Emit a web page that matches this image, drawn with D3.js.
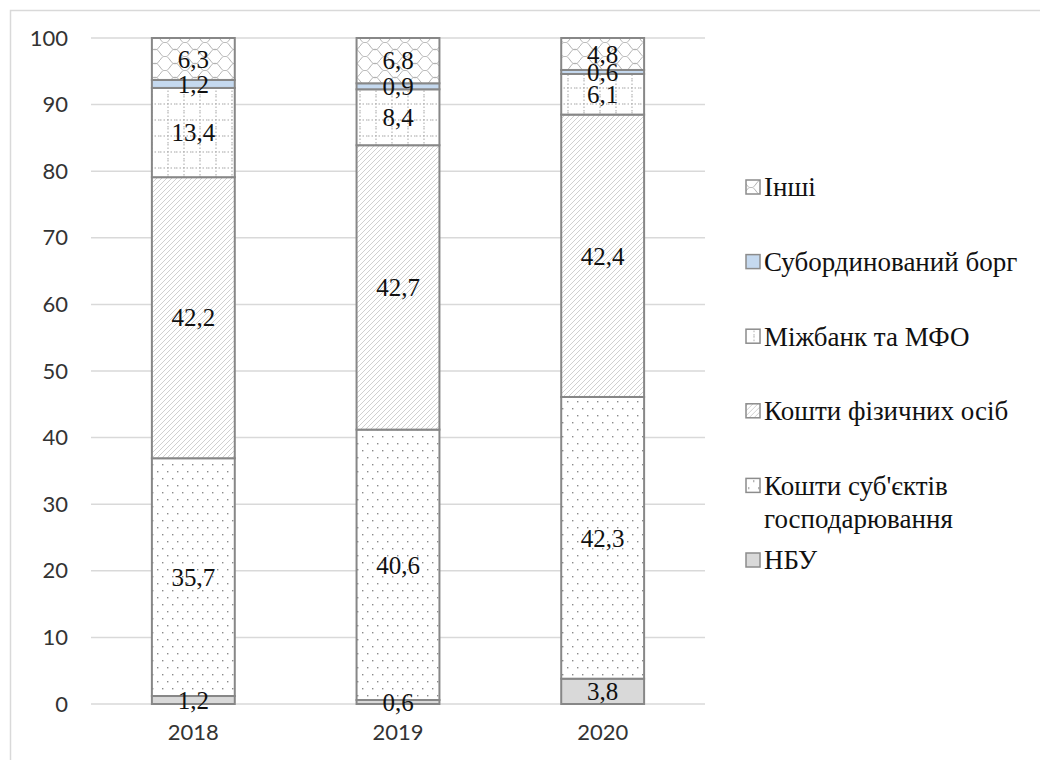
<!DOCTYPE html>
<html>
<head>
<meta charset="utf-8">
<script src="https://cdn.jsdelivr.net/npm/d3@7"></script>
<style>
  html, body { margin: 0; padding: 0; background: #fff; }
  svg { display: block; }
</style>
</head>
<body>
<svg id="chart" width="1040" height="760"></svg>
<script>
// Structure of bank liabilities, % (bottom-to-top stacking order)
const years = ["2018", "2019", "2020"];
const seriesNames = [
  "НБУ",
  "Кошти суб'єктів господарювання",
  "Кошти фізичних осіб",
  "Міжбанк та МФО",
  "Субординований борг",
  "Інші"
];
const nbu           = [1.2, 0.6, 3.8];
const businessFunds = [35.7, 40.6, 42.3];
const personalFunds = [42.2, 42.7, 42.4];
const interbank     = [13.4, 8.4, 6.1];
const subordinated  = [1.2, 0.9, 0.6];
const other         = [6.3, 6.8, 4.8];
const yTicks = [0, 10, 20, 30, 40, 50, 60, 70, 80, 90, 100];

const seriesValues = [nbu, businessFunds, personalFunds, interbank, subordinated, other];
const keys = ["nbu", "business", "personal", "interbank", "subordinated", "other"];

const rows = years.map((y, i) => {
  const r = { year: y };
  keys.forEach((k, j) => { r[k] = seriesValues[j][i]; });
  return r;
});

const svg = d3.select("#chart");
const defs = svg.append("defs");

// --- fill patterns ---
const gray = "#a6a6a6";

// dotted fill
const pDots = defs.append("pattern").attr("id", "p-dots")
  .attr("patternUnits", "userSpaceOnUse").attr("width", 10).attr("height", 14);
pDots.append("rect").attr("width", 10).attr("height", 14).attr("fill", "#fff");
pDots.append("rect").attr("x", 2).attr("y", 2).attr("width", 1.4).attr("height", 1.4).attr("fill", "#8a8a8a");
pDots.append("rect").attr("x", 7).attr("y", 9).attr("width", 1.4).attr("height", 1.4).attr("fill", "#8a8a8a");

// diagonal hatch
const pDiag = defs.append("pattern").attr("id", "p-diag")
  .attr("patternUnits", "userSpaceOnUse").attr("width", 5).attr("height", 5);
pDiag.append("rect").attr("width", 5).attr("height", 5).attr("fill", "#fff");
pDiag.append("path").attr("d", "M-1,1 L1,-1 M0,5 L5,0 M4,6 L6,4")
  .attr("stroke", "#d0d0d0").attr("stroke-width", 1);

// dotted grid
const pGrid = defs.append("pattern").attr("id", "p-grid")
  .attr("patternUnits", "userSpaceOnUse").attr("width", 16).attr("height", 16);
pGrid.append("rect").attr("width", 16).attr("height", 16).attr("fill", "#fff");
pGrid.append("line").attr("x1", 0).attr("x2", 16).attr("y1", 8).attr("y2", 8)
  .attr("stroke", gray).attr("stroke-width", 1).attr("stroke-dasharray", "1.5,2");
pGrid.append("line").attr("x1", 8).attr("x2", 8).attr("y1", 0).attr("y2", 16)
  .attr("stroke", gray).attr("stroke-width", 1).attr("stroke-dasharray", "1.5,2");

// scalloped fill
const pWave = defs.append("pattern").attr("id", "p-wave")
  .attr("patternUnits", "userSpaceOnUse").attr("width", 20).attr("height", 14);
pWave.append("rect").attr("width", 20).attr("height", 14).attr("fill", "#fff");
pWave.append("path")
  .attr("d", "M0,4 C3,-1 7,-1 10,4 C13,9 17,9 20,4 M-10,11 C-7,6 -3,6 0,11 C3,16 7,16 10,11 C13,6 17,6 20,11 C23,16 27,16 30,11")
  .attr("fill", "none").attr("stroke", "#b0b0b0").attr("stroke-width", 1);

const fills = {
  nbu: "#d9d9d9",
  business: "url(#p-dots)",
  personal: "url(#p-diag)",
  interbank: "url(#p-grid)",
  subordinated: "#c5d9ef",
  other: "url(#p-wave)"
};

// --- frame ---
svg.append("rect").attr("x", 10.5).attr("y", 10.5).attr("width", 1040).attr("height", 760)
  .attr("fill", "none").attr("stroke", "#d9d9d9").attr("stroke-width", 1.5);

// --- scales ---
const x = d3.scaleBand().domain(years).range([91, 705])
  .paddingInner(0.595).paddingOuter(0.2975);
const y = d3.scaleLinear().domain([0, 100]).range([704, 38]);

// gridlines
svg.append("g").selectAll("line").data(yTicks).join("line")
  .attr("x1", 91).attr("x2", 705)
  .attr("y1", d => y(d)).attr("y2", d => y(d))
  .attr("stroke", "#d9d9d9").attr("stroke-width", 1.5);

// y axis labels
const yAxis = svg.append("g").attr("transform", "translate(68,0)")
  .call(d3.axisLeft(y).tickValues(yTicks).tickSize(0).tickPadding(0));
yAxis.select(".domain").remove();
yAxis.selectAll("text")
  .attr("font-family", "Lato, 'Open Sans', sans-serif").attr("font-size", 22)
  .attr("fill", "#333");

// x axis labels
const xAxis = svg.append("g").attr("transform", "translate(0,716)")
  .call(d3.axisBottom(x).tickSize(0).tickPadding(8));
xAxis.select(".domain").remove();
xAxis.selectAll("text")
  .attr("font-family", "Lato, 'Open Sans', sans-serif").attr("font-size", 22)
  .attr("fill", "#333").attr("dy", "0.71em");

// --- stacked bars ---
const stack = d3.stack().keys(keys);
const stacked = stack(rows);

const layers = svg.append("g").selectAll("g").data(stacked).join("g")
  .attr("fill", d => fills[d.key]);

layers.selectAll("rect").data(d => d).join("rect")
  .attr("x", d => x(d.data.year))
  .attr("width", x.bandwidth())
  .attr("y", d => y(d[1]))
  .attr("height", d => y(d[0]) - y(d[1]))
  .attr("stroke", "#878787").attr("stroke-width", 2);

// value labels
const fmt = v => String(v).replace(".", ",");
const labels = svg.append("g");
stacked.forEach(layer => {
  layer.forEach(d => {
    labels.append("text")
      .attr("x", x(d.data.year) + x.bandwidth() / 2)
      .attr("y", (y(d[0]) + y(d[1])) / 2)
      .attr("dy", "0.35em")
      .attr("text-anchor", "middle")
      .attr("font-family", "'Liberation Serif', 'Times New Roman', serif")
      .attr("font-size", 25)
      .attr("fill", "#111")
      .text(fmt(d.data[layer.key]));
  });
});

// --- legend (top entry = top of stack) ---
const legendItems = keys.map((k, i) => ({ key: k, name: seriesNames[i] })).reverse();
const legend = svg.append("g").attr("transform", "translate(746,187)");
const lg = legend.selectAll("g").data(legendItems).join("g")
  .attr("transform", (d, i) => `translate(0,${i * 74.6})`);
lg.append("rect").attr("x", 0).attr("y", -7).attr("width", 14).attr("height", 14)
  .attr("fill", d => fills[d.key]).attr("stroke", "#8c8c8c").attr("stroke-width", 1.5);
lg.append("text")
  .attr("x", 18).attr("y", 0).attr("dy", "0.35em")
  .attr("font-family", "'Liberation Serif', 'Times New Roman', serif")
  .attr("font-size", 27).attr("fill", "#111")
  .each(function (d) {
    const t = d3.select(this);
    if (d.key === "business") {
      t.append("tspan").attr("x", 18).text("Кошти суб'єктів");
      t.append("tspan").attr("x", 18).attr("dy", "1.22em").text("господарювання");
    } else {
      t.text(d.name);
    }
  });
</script>
</body>
</html>
